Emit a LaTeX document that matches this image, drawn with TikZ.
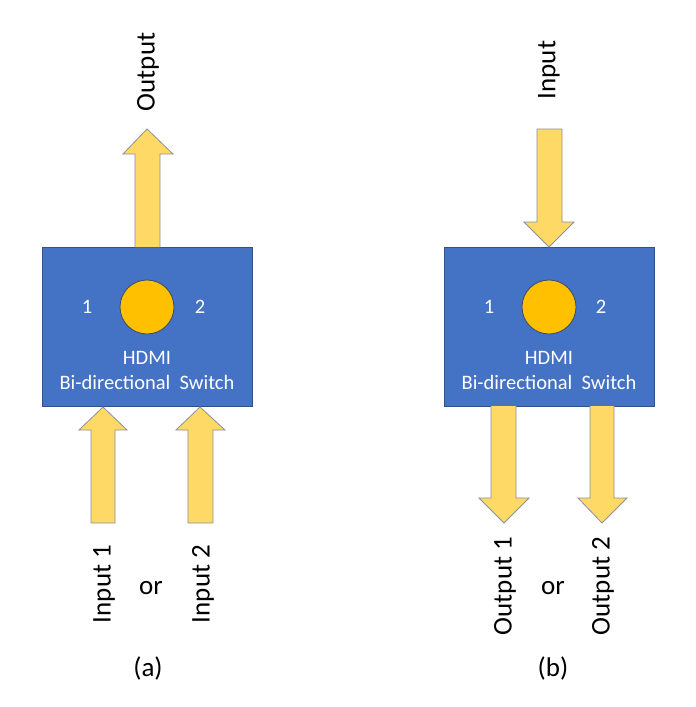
\documentclass[tikz,border=0pt]{standalone}
\usepackage{fontspec}
\setmainfont{Carlito}
\definecolor{boxblue}{HTML}{4472C4}
\definecolor{boxedge}{HTML}{2F528F}
\definecolor{arrowfill}{HTML}{FFD966}
\definecolor{arrowedge}{HTML}{8A8F99}
\definecolor{knob}{HTML}{FFC000}
\definecolor{knobedge}{HTML}{3B4A66}
\begin{document}
\begin{tikzpicture}[x=1pt,y=-1pt,
  box/.style={draw=boxedge,line width=0.8pt,fill=boxblue,minimum width=210pt,minimum height=159pt,inner sep=0pt},
  knobstyle/.style={circle,draw=knobedge,line width=0.8pt,fill=knob,minimum size=54pt,inner sep=0pt},
  blockarrow/.style={draw=arrowedge,line width=0.8pt,fill=arrowfill,line join=miter},
  intext/.style={text=white,font=\fontsize{20.5}{24}\selectfont},
  lbl/.style={font=\fontsize{27}{32}\selectfont,inner sep=0pt},
  vlbl/.style={lbl,rotate=90}]
\useasboundingbox (0,0) rectangle (696,707);
% ---------- (a) ----------
\node[box] (boxa) at (147,326.5) {};
\node[knobstyle] (knoba) at (147,307) {};
\node[intext] (onea) at (87,307) {1};
\node[intext] (twoa) at (200,307) {2};
\node[intext,align=center,font=\fontsize{20.5}{25}\selectfont] (labela) at (147,370) {HDMI\\Bi-directional~~Switch};
% output arrow
\draw[blockarrow] (135,247) -- (135,154) -- (123,154) -- (147,129) -- (173,154) -- (160,154) -- (160,247);
% input arrows
\draw[blockarrow] (91,523) -- (91,430) -- (79,430) -- (103,407) -- (127,430) -- (115,430) -- (115,523) -- cycle;
\draw[blockarrow] (188,523) -- (188,430) -- (176,430) -- (200,407) -- (225,430) -- (213,430) -- (213,523) -- cycle;
\node[vlbl] (outa) at (148,72) {Output};
\node[vlbl] (in1) at (104,584) {Input 1};
\node[vlbl] (in2) at (203,584) {Input 2};
\node[lbl] (ora) at (151,588) {or};
\node[lbl] (capa) at (148,668) {(a)};
% ---------- (b) ----------
\node[box] (boxb) at (549,326.5) {};
\node[knobstyle] (knobb) at (549,307) {};
\node[intext] (oneb) at (489,307) {1};
\node[intext] (twob) at (601,307) {2};
\node[intext,align=center,font=\fontsize{20.5}{25}\selectfont] (labelb) at (549,370) {HDMI\\Bi-directional~~Switch};
% input arrow
\draw[blockarrow] (537,129) -- (537,222) -- (524,222) -- (549,247) -- (574,222) -- (562,222) -- (562,129) -- cycle;
% output arrows
\draw[blockarrow] (491,406) -- (491,498) -- (479,498) -- (504,523) -- (529,498) -- (516,498) -- (516,406);
\draw[blockarrow] (590,406) -- (590,498) -- (578,498) -- (602,523) -- (627,498) -- (614,498) -- (614,406);
\node[vlbl] (inb) at (549,70) {Input};
\node[vlbl] (out1) at (505,586) {Output 1};
\node[vlbl] (out2) at (603,586) {Output 2};
\node[lbl] (orb) at (553,588) {or};
\node[lbl] (capb) at (553,668) {(b)};
\end{tikzpicture}
\end{document}
